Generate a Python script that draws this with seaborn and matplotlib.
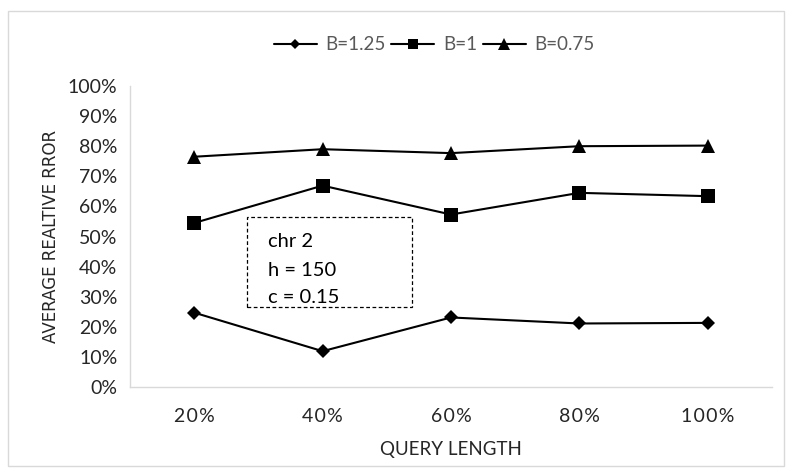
import matplotlib
matplotlib.use("Agg")
import matplotlib.pyplot as plt
import seaborn as sns
import pandas as pd
from matplotlib.patches import Rectangle

categories = ["20%", "40%", "60%", "80%", "100%"]
b125 = [24.7, 11.9, 23.1, 21.1, 21.3]
b100 = [54.5, 66.9, 57.3, 64.5, 63.4]
b075 = [76.5, 79.0, 77.7, 80.0, 80.2]
series_names = ["B=1.25", "B=1", "B=0.75"]
yticks = [0, 10, 20, 30, 40, 50, 60, 70, 80, 90, 100]
box_lines = ["chr 2", "h = 150", "c = 0.15"]

rows = []
for name, vals in zip(series_names, [b125, b100, b075]):
    for i, v in enumerate(vals):
        rows.append({"pos": i, "val": v, "series": name})
df = pd.DataFrame(rows)

sns.set_style("white")
plt.rcParams["font.family"] = ["Lato", "DejaVu Sans"]

fig = plt.figure(figsize=(7.92, 4.70), dpi=100)
ax = fig.add_axes([130/792, 1-387/470, (772-130)/792, (387-86)/470])

marker_map = {"B=1.25": "D", "B=1": "s", "B=0.75": "^"}
size_map = {"D": 6.8, "s": 10, "^": 10}
legend_size = {"D": 5.0, "s": 7.2, "^": 8.0}

sns.lineplot(data=df, x="pos", y="val", hue="series", style="series",
             hue_order=series_names, style_order=series_names,
             palette=["black"]*3, markers=marker_map,
             dashes=False, markersize=9, linewidth=1.5, markeredgewidth=0,
             ax=ax, legend=True)
for ln in ax.lines:
    m = ln.get_marker()
    if m in size_map:
        ln.set_markersize(size_map[m])

ax.set_xlim(-0.5, 4.5)
ax.set_ylim(0, 100)
ax.set_xticks(range(len(categories)))
ax.set_xticklabels(["\u200a".join(c) for c in categories])
ax.set_yticks(yticks)
ax.set_yticklabels([f"{t}%" for t in yticks])
ax.tick_params(axis="both", length=0, labelsize=14, labelcolor="#262626")
ax.tick_params(axis="y", pad=9)
ax.tick_params(axis="x", pad=15)
for s in ["top", "right"]:
    ax.spines[s].set_visible(False)
ax.spines["left"].set_color("#d9d9d9")
ax.spines["bottom"].set_color("#d9d9d9")
ax.spines["left"].set_linewidth(1.0)
ax.spines["bottom"].set_linewidth(1.0)

ax.set_xlabel("QUERY LENGTH", fontsize=13.5, color="#262626", labelpad=12)
ax.set_ylabel("AVERAGE REALTIVE RROR", fontsize=12, color="#262626",
              family="DejaVu Sans", labelpad=6)

# text box
ax.add_patch(Rectangle((0.413, 26.6), 1.285, 29.9, fill=False, edgecolor="black",
                       linestyle=(0, (3, 2)), linewidth=0.9))
for i, (t, yy) in enumerate(zip(box_lines, [48.2, 38.6, 29.9])):
    ax.text(0.576, yy, t, fontsize=14.5, color="black", va="center", ha="left")

handles, labels = ax.get_legend_handles_labels()
ax.legend_.remove()
leg = fig.legend(handles, labels, loc="center", bbox_to_anchor=(434/792, 1-45/470), ncol=3,
                 frameon=False, fontsize=13.5, handlelength=2.3, columnspacing=0.3,
                 handletextpad=0.45, labelcolor="#595959")
for h in leg.legend_handles:
    m = h.get_marker()
    if m in legend_size:
        h.set_markersize(legend_size[m])
    h.set_linewidth(1.5)

fig.patches.append(Rectangle((8/792, 4/470), 776/792, 455/470, transform=fig.transFigure,
                             fill=False, edgecolor="#d9d9d9", linewidth=1.0))

fig.savefig("out.png", dpi=100)
